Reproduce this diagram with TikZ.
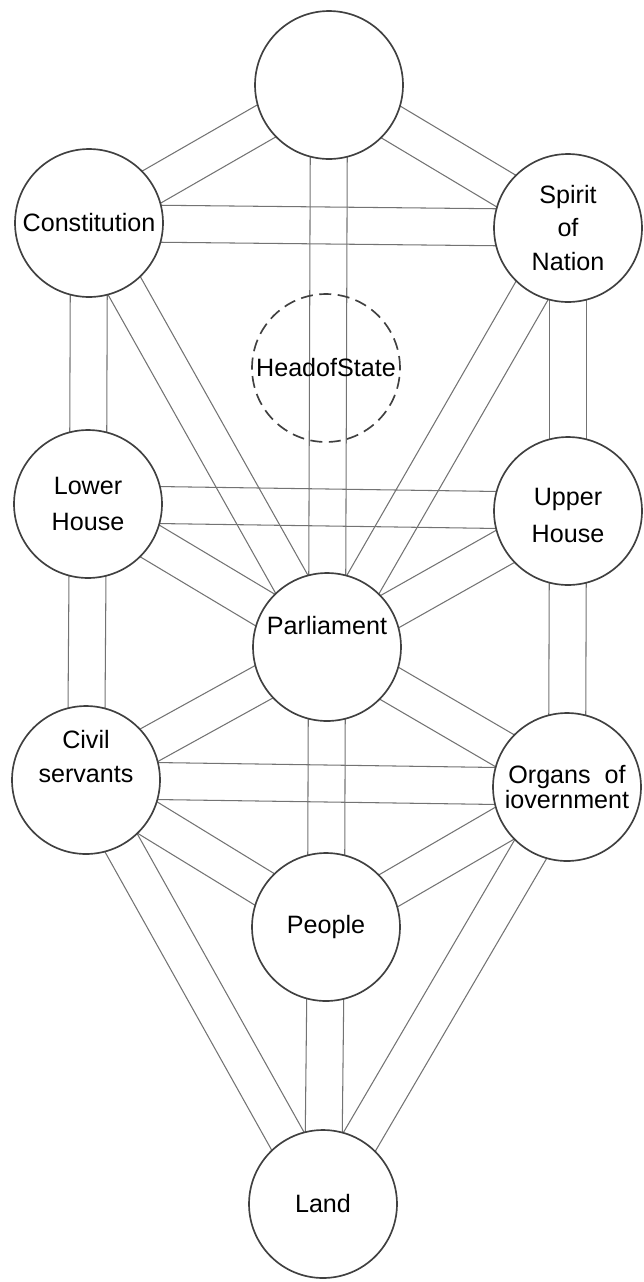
\documentclass[tikz,border=0pt]{standalone}
\usepackage{fontspec}
\setmainfont{Liberation Sans}
\usetikzlibrary{calc}
\pgfdeclarelayer{background}
\pgfsetlayers{background,main}

\tikzset{
  sefira/.style={circle, draw=black!75, line width=0.95pt, fill=white, inner sep=0pt,
    minimum size=2.96cm, align=center, font=\fontsize{14.3}{19}\selectfont},
  hidden/.style={sefira, fill=none, dash pattern=on 0.24cm off 0.13cm},
  channel/.style={draw=black!55, line width=0.6pt}
}
\newcommand{\chan}[2]{%
  \draw[channel] ($(#1)!0.37cm!90:(#2)$) -- ($(#2)!0.37cm!-90:(#1)$);
  \draw[channel] ($(#1)!0.37cm!-90:(#2)$) -- ($(#2)!0.37cm!90:(#1)$);}

\begin{document}
\begin{tikzpicture}[x=0.02cm, y=-0.02cm]
\useasboundingbox (0,0) rectangle (643,1282);
\node[sefira] (top) at (329,85) {};
\node[sefira] (constitution) at (89,223) {Constitution};
\node[sefira] (spirit) at (568,228) {Spirit\\of\\Nation};
\node[hidden] (head) at (326,368) {HeadofState};
\node[sefira] (lower) at (88,504) {Lower\\[2pt]House};
\node[sefira] (upper) at (568,511) {\\[-4pt]Upper\\[2pt]House};
\node[sefira] (parliament) at (327,647) {Parliament\\[6pt]};
\node[sefira] (civil) at (86,780) {Civil\\servants\\[8pt]};
\node[sefira, font=\fontsize{14.3}{14.5}\selectfont] (organs) at (567,787) {Organs~~of\\iovernment};
\node[sefira] (people) at (326,927) {People};
\node[sefira] (land) at (323,1204) {Land};
\begin{pgfonlayer}{background}
\chan{top}{constitution}
\chan{top}{spirit}
\chan{top}{parliament}
\chan{constitution}{spirit}
\chan{constitution}{lower}
\chan{constitution}{parliament}
\chan{spirit}{upper}
\chan{spirit}{parliament}
\chan{lower}{upper}
\chan{lower}{parliament}
\chan{lower}{civil}
\chan{upper}{parliament}
\chan{upper}{organs}
\chan{parliament}{civil}
\chan{parliament}{organs}
\chan{parliament}{people}
\chan{civil}{organs}
\chan{civil}{people}
\chan{organs}{people}
\chan{civil}{land}
\chan{organs}{land}
\chan{people}{land}
\end{pgfonlayer}
\end{tikzpicture}
\end{document}
